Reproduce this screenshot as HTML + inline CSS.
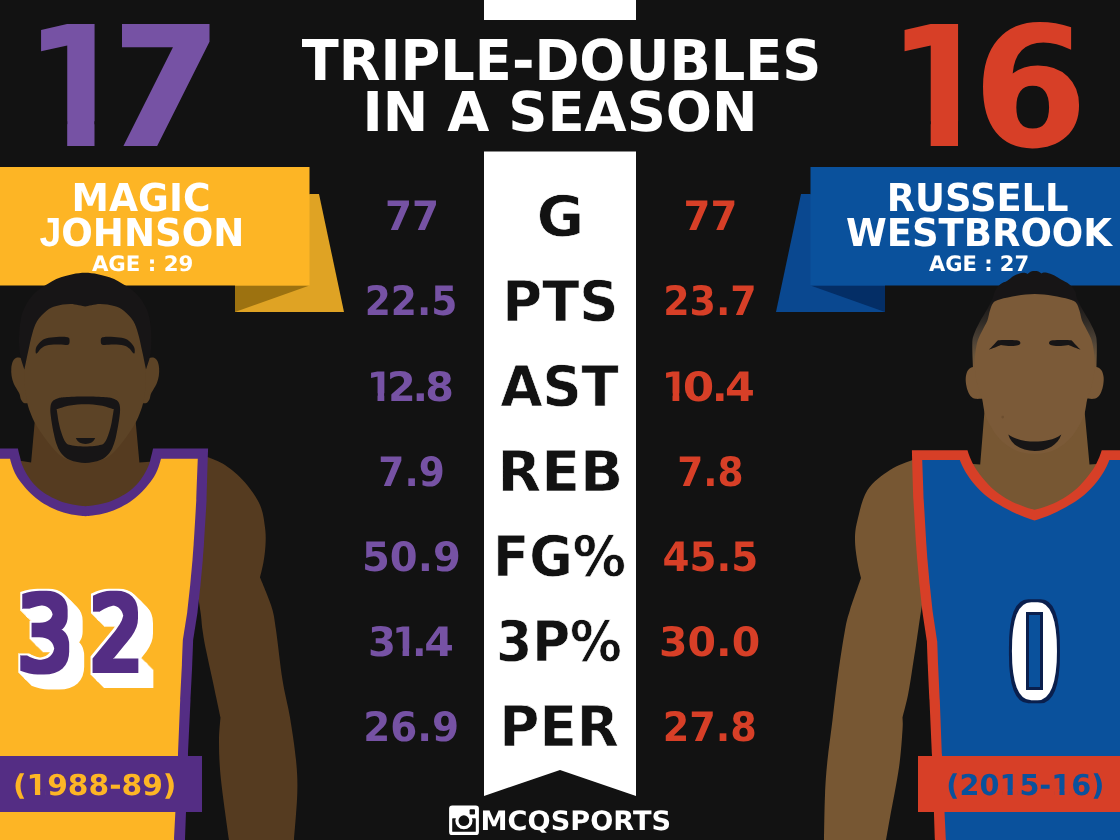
<!DOCTYPE html>
<html lang="en">
<head>
<meta charset="utf-8">
<title>Triple-Doubles in a Season</title>
<style>
html,body{margin:0;padding:0;background:#121212;}
body{width:1120px;height:840px;overflow:hidden;position:relative;font-family:'DejaVu Sans', 'Liberation Sans', sans-serif;}
</style>
</head>
<body>
<svg width="1120" height="840" viewBox="0 0 1120 840" style="display:block;position:absolute;left:0;top:0" text-rendering="geometricPrecision">
<rect width="1120" height="840" fill="#121212"/>
<g fill="#fff">
<rect x="484" y="0" width="152" height="20"/>
<path d="M484 151.5H636V796L560 770L484 796Z"/>
</g>
<path d="M309.5 194H319L344 312H235V285Z" fill="#dfa324"/>
<path d="M235 285.5H309.5L235 312Z" fill="#9d7210"/>
<rect x="0" y="167" width="309.5" height="118.5" fill="#fdb525"/>
<path d="M810.5 194H801L776 312H885V285Z" fill="#0a4890"/>
<path d="M885 285.5H810.5L885 312Z" fill="#042e66"/>
<rect x="810.5" y="167" width="309.5" height="118.5" fill="#0a519c"/>
<g id="magic">
<path fill="#553b20" d="M190 456C192.9 456.2 204.6 456.8 207.5 457C210.4 458.3 218.8 460.8 225 465C231.2 469.2 239.2 475.8 245 482.5C250.8 489.2 256.7 497.5 260 505C263.3 512.5 264.1 520.8 265 527.5C265.9 534.2 265.8 539.2 265.5 545C265.2 550.8 264.4 556.6 263.5 562C262.6 567.4 260.6 574.9 260 577.5C261 579.9 263.9 586.6 266 592C268.1 597.4 270.8 603.7 272.5 610C274.2 616.3 274.3 618.3 276 630C277.7 641.7 280.2 665.4 282.5 680C284.8 694.6 287.8 704.2 290 717.5C292.2 730.8 294.8 747.5 296 760C297.2 772.5 297.6 779.2 297.3 792.5C297 805.8 294.6 832.1 294 840C283.2 840 239.8 840 229 840C227.7 830 222.7 796.2 221 780C219.3 763.8 219.1 752.9 219 742.5C218.9 732.1 220.2 721.7 220.5 717.5C219.2 711.2 214.9 691.2 212.5 680C210.1 668.8 207.7 658.3 206 650C204.3 641.7 203.4 636.3 202.5 630C201.6 623.7 201.6 619.5 200.5 612C199.4 604.5 197.8 593.7 196 585C194.2 576.3 191 564.2 190 560C190 542.7 190 473.3 190 456Z"/>
<path fill="#553b20" d="M35.8 410L134.6 410L139.4 462.5L160 461L160 530L0 530L0 461L21.7 461L31.1 462.5Z"/>
<path fill="#542d84" d="M-2 448.5C1.3 448.5 14.6 448.5 17.9 448.5C18.2 449.8 19 453.5 19.8 456.2C20.5 459 21 461.9 22.2 465C23.5 468.1 25.2 471.7 27.2 475C29.3 478.3 32 482.1 34.8 485C37.5 487.9 40.2 490.2 43.5 492.5C46.8 494.8 51 497 54.8 498.8C58.5 500.5 62 502 66 503.1C70 504.2 75.2 505.1 78.5 505.6C81.8 506.1 83.2 506.2 85.5 506.2C87.8 506.2 89.2 506.1 92.5 505.6C95.8 505.1 101 504.2 105 503.1C109 502 112.5 500.5 116.2 498.8C120 497 124.2 494.8 127.5 492.5C130.8 490.2 133.5 487.9 136.2 485C139 482.1 141.7 478.3 143.8 475C145.8 471.7 147.5 468.1 148.8 465C150 461.9 150.5 459 151.2 456.2C152 453.5 152.8 449.8 153.1 448.5C162.3 448.5 198.9 448.5 208.1 448.5C207.8 457.1 206.8 491.4 206.6 500C206.2 507.5 204.3 537.5 203.9 545C203.7 547.5 202.9 557.5 202.8 560C202.4 564.2 200.9 580.8 200.5 585C200 589.6 198 607.9 197.5 612.5C196.8 617.2 193.8 636.2 193.1 641C193 645 192.4 661 192.2 665C192 670.8 190.8 694.2 190.5 700C190.1 709.2 188.4 745.8 188 755C187.8 762.5 186.8 792.5 186.5 800C186.2 807 185.2 835 185 842C153.8 842 29.2 842 -2 842C-2 776.4 -2 514.1 -2 448.5Z"/>
<path fill="#fdb525" d="M-2 458.8C0 458.8 8 458.8 10 458.8C10.4 460 11.2 463.5 12.2 466.2C13.2 469 14.5 472.3 16 475C17.5 477.7 18.9 479.8 21 482.5C23.1 485.2 25.6 488.3 28.5 491.2C31.4 494.2 35 497.4 38.5 500C42 502.6 45.6 504.8 49.8 506.9C53.9 509 58.7 511.1 63.5 512.5C68.3 514 74.8 515 78.5 515.6C82.2 516.2 83.2 516.2 85.5 516.2C87.8 516.2 88.8 516.2 92.5 515.6C96.2 515 102.7 514 107.5 512.5C112.3 511.1 117.1 509 121.2 506.9C125.4 504.8 129 502.6 132.5 500C136 497.4 139.6 494.2 142.5 491.2C145.4 488.3 147.9 485.2 150 482.5C152.1 479.8 153.5 477.7 155 475C156.5 472.3 157.8 469 158.8 466.2C159.8 463.5 160.6 460 161 458.8C167.1 458.8 191.6 458.8 197.8 458.8C197.5 465.6 196.5 493.1 196.3 500C195.9 507.5 194.1 537.5 193.6 545C193.4 547.5 192.7 557.5 192.5 560C192.1 564.2 190.6 580.8 190.2 585C189.7 589.6 187.7 607.9 187.2 612.5C186.5 617.2 183.5 636.2 182.8 641C182.6 645 182 661 181.9 665C181.6 670.8 180.5 694.2 180.2 700C179.8 709.2 178.4 745.8 178 755C177.7 762.5 176.3 792.5 176 800C175.7 807 174.3 835 174 842C144.7 842 27.3 842 -2 842C-2 778.1 -2 522.6 -2 458.8Z"/>
<rect x="0" y="756" width="202" height="56" fill="#542d84"/>
<path fill="#5c4326" d="M27 362C26.2 361.4 23.7 358.9 22 358.2C20.3 357.5 18.5 357.1 17 357.6C15.5 358.1 13.9 359.3 13 361C12.1 362.7 11.5 365.5 11.3 368C11.1 370.5 11.2 373.5 11.6 376C12 378.5 12.6 380.8 13.5 383C14.4 385.2 16 387.7 17 389.5C18 391.3 18.8 392.3 19.5 394C20.2 395.7 20.2 398 21 399.5C21.8 401 22.7 402.4 24 403C25.3 403.6 28.2 403 29 403C28.7 396.2 27.3 368.8 27 362Z"/>
<path fill="#5c4326" d="M143.4 362C144.2 361.4 146.7 358.9 148.4 358.2C150.1 357.5 151.9 357.1 153.4 357.6C154.9 358.1 156.5 359.3 157.4 361C158.3 362.7 158.9 365.5 159.1 368C159.3 370.5 159.2 373.5 158.8 376C158.4 378.5 157.8 380.8 156.9 383C156 385.2 154.4 387.7 153.4 389.5C152.4 391.3 151.6 392.3 150.9 394C150.2 395.7 150.2 398 149.4 399.5C148.7 401 147.7 402.4 146.4 403C145.1 403.6 142.2 403 141.4 403C141.7 396.2 143.1 368.8 143.4 362Z"/>
<path fill="#5c4326" d="M45 292C42.7 295 34.3 303.7 31 310C27.7 316.3 26.3 323.3 25 330C23.7 336.7 23.1 343.4 23 350C22.9 356.6 24.1 363.7 24.4 369.5C24.7 375.3 24.1 379.4 24.6 385C25.1 390.6 26.3 398.3 27.3 403C28.3 407.7 29.3 409.8 30.5 413C31.7 416.2 32.7 418.8 34.6 422.3C36.5 425.8 39.3 430.1 42 434C44.7 437.9 47.8 442.3 51 446C54.2 449.7 57.5 453.5 61 456C64.5 458.5 68 459.9 72 461C76 462.1 80.8 462.5 85.2 462.5C89.6 462.5 94.4 462.1 98.4 461C102.4 459.9 105.9 458.5 109.4 456C112.9 453.5 116.2 449.7 119.4 446C122.6 442.3 125.7 437.9 128.4 434C131.1 430.1 133.9 425.8 135.8 422.3C137.7 418.8 138.7 416.2 139.9 413C141.1 409.8 142.1 407.7 143.1 403C144.1 398.3 145.3 390.6 145.8 385C146.3 379.4 145.7 375.3 146 369.5C146.3 363.7 147.5 356.6 147.4 350C147.3 343.4 146.7 336.7 145.4 330C144.1 323.3 142.7 316.3 139.4 310C136.1 303.7 127.7 295 125.4 292C112 292 58.4 292 45 292Z"/>
<path fill="#171516" d="M24.4 369.5C23.7 367.1 21 360.4 20.1 355C19.2 349.6 18.9 343.5 19 337.3C19.1 331.1 19.8 323.4 20.9 318C22 312.6 23.6 309.2 25.7 305.2C27.8 301.2 30.6 297.3 33.8 294C37 290.7 40.5 288.4 45 285.6C49.5 282.8 54.3 279.5 61 277.3C67.7 275.1 77.1 272.7 85.2 272.7C93.3 272.7 102.7 275.1 109.4 277.3C116.1 279.5 120.9 282.8 125.4 285.6C129.9 288.4 133.4 290.7 136.6 294C139.8 297.3 142.6 301.2 144.7 305.2C146.9 309.2 148.4 312.6 149.5 318C150.6 323.4 151.3 331.1 151.4 337.3C151.5 343.5 151.2 349.6 150.3 355C149.4 360.4 146.7 367.1 146 369.5C146 369.5 146 369.5 146 369.5C145.4 366.6 143.6 357.7 142.3 351.8C141 345.9 139.7 339.1 138.2 334C136.7 328.9 135.8 325.2 133.4 321.3C131 317.4 127 313.4 123.8 310.8C120.6 308.2 118.1 307.1 114.1 306C110.1 304.9 104.5 303.9 99.7 304C94.9 304.1 87.6 306.1 85.2 306.5C82.8 306.1 75.5 304.1 70.7 304C65.9 303.9 60.3 304.9 56.3 306C52.3 307.1 49.8 308.2 46.6 310.8C43.4 313.4 39.4 317.4 37 321.3C34.6 325.2 33.7 328.9 32.2 334C30.7 339.1 29.4 345.9 28.1 351.8C26.8 357.7 25 366.6 24.4 369.5Z"/>
<path fill="#171516" fill-rule="evenodd" d="M85.2 396.6C78.5 396.6 69.6 396.9 65 397.2C60.4 397.5 59.6 397.7 57.5 398.4C55.4 399.1 53.8 399.8 52.6 401.2C51.4 402.6 50.8 404 50.5 406.5C50.2 409 50.2 411.5 50.8 416C51.3 420.5 52.8 428.9 53.8 433.6C54.8 438.3 55.3 440.8 56.5 444C57.7 447.2 58.8 450.2 61 452.9C63.2 455.6 66 458.3 70 460C74 461.7 80.1 462.9 85.2 462.9C90.3 462.9 96.4 461.7 100.4 460C104.4 458.3 107.2 455.6 109.4 452.9C111.7 450.2 112.7 447.2 113.9 444C115.1 440.8 115.7 438.3 116.6 433.6C117.6 428.9 119.1 420.5 119.6 416C120.2 411.5 120.2 409 119.9 406.5C119.6 404 119 402.6 117.8 401.2C116.6 399.8 115 399.1 112.9 398.4C110.8 397.7 110 397.5 105.4 397.2C100.8 396.9 91.9 396.6 85.2 396.6ZM85.2 404.2C80.1 404.2 74.8 404.6 70 405.4C65.2 406.2 58.8 408.5 56.6 409.1C57 411.3 58 418.6 58.7 422.3C59.4 426 60.2 428.8 61 431.5C61.8 434.2 62.7 436.5 63.5 438.4C64.3 440.3 65.1 441.7 66 442.8C66.9 443.9 67.4 444.3 69.1 444.8C70.8 445.3 73.3 445.7 76 446C78.7 446.3 82.1 446.4 85.2 446.4C88.3 446.4 91.7 446.3 94.4 446C97.1 445.7 99.6 445.3 101.3 444.8C103 444.3 103.5 443.9 104.4 442.8C105.3 441.7 106.1 440.3 106.9 438.4C107.7 436.5 108.6 434.2 109.4 431.5C110.2 428.8 111 426 111.7 422.3C112.4 418.6 113.5 411.3 113.8 409.1C111.6 408.5 105.2 406.2 100.4 405.4C95.6 404.6 90.3 404.2 85.2 404.2Z"/>
<path fill="#171516" d="M75.9 438.1L95.1 438.1C94 442 90 444 85.5 444C81 444 77 442 75.9 438.1Z"/>
<path fill="#171516" d="M35.7 352.6C35.6 351.7 35.5 349.5 36 348C36.5 346.5 37.6 345.1 38.6 343.8C39.6 342.6 40.7 341.4 42 340.5C43.3 339.6 44.2 338.9 46.6 338.3C49 337.7 53.1 337.2 56.3 337C59.5 336.8 63.9 336.7 66 336.9C68.1 337.1 68.4 337.3 69 338C69.6 338.7 69.6 340 69.6 341C69.6 342 69.6 343.3 69 344C68.4 344.7 68.1 344.9 66 345C63.9 345.1 59.5 344.5 56.3 344.6C53.1 344.7 49.1 344.9 46.6 345.6C44.1 346.3 42.4 347.5 41 348.6C39.6 349.7 38.7 351.5 38 352.3C37.3 353.1 37 353.4 36.6 353.5C36.2 353.6 35.8 353.5 35.7 352.6Z"/>
<path fill="#171516" d="M134.7 352.6C134.8 351.7 134.9 349.5 134.4 348C133.9 346.5 132.8 345.1 131.8 343.8C130.8 342.6 129.7 341.4 128.4 340.5C127.1 339.6 126.2 338.9 123.8 338.3C121.4 337.7 117.3 337.2 114.1 337C110.9 336.8 106.5 336.7 104.4 336.9C102.3 337.1 102 337.3 101.4 338C100.8 338.7 100.8 340 100.8 341C100.8 342 100.8 343.3 101.4 344C102 344.7 102.3 344.9 104.4 345C106.5 345.1 110.9 344.5 114.1 344.6C117.3 344.7 121.3 344.9 123.8 345.6C126.4 346.3 128 347.5 129.4 348.6C130.8 349.7 131.7 351.5 132.4 352.3C133.1 353.1 133.4 353.4 133.8 353.5C134.2 353.6 134.6 353.5 134.7 352.6Z"/>
</g>
<g id="west">
<defs><linearGradient id="wfade" gradientUnits="userSpaceOnUse" x1="0" y1="300" x2="0" y2="368"><stop offset="0" stop-color="#171516"/><stop offset="0.3" stop-color="#2e2924"/><stop offset="0.6" stop-color="#4d4236"/><stop offset="0.82" stop-color="#6b553b"/><stop offset="1" stop-color="#7b5a38"/></linearGradient></defs>
<path fill="#775733" d="M932 458C928.8 458.3 915.8 459.7 912.5 460C908.8 461.7 897.5 465 890 470C882.5 475 872.9 481.7 867.5 490C862.1 498.3 859.6 511.7 857.5 520C855.4 528.3 855 532.9 855 540C855 547.1 856.5 556.2 857.5 562.5C858.5 568.8 860.4 575.4 861 578C859.2 583.3 852.7 601.3 850 610C847.3 618.7 847 619.2 845 630C843 640.8 840.1 660 838 675C835.9 690 834.2 705.8 832.5 720C830.8 734.2 828.8 747.5 827.5 760C826.2 772.5 825.6 781.7 825 795C824.4 808.3 824.2 832.5 824 840C834.3 840 875.7 840 886 840C886.7 836.2 887.8 829.6 890 817.5C892.2 805.4 896.9 782.1 899 767.5C901.1 752.9 901.9 738.3 902.5 730C903.1 721.7 902.5 719.6 902.5 717.5C903.4 713.8 906.3 703.3 908 695C909.7 686.7 911.2 675.8 912.5 667.5C913.8 659.2 915 651.6 916 645C917 638.4 917.5 634.7 918.5 628C919.5 621.3 920.8 612.2 922 605C923.2 597.8 924.3 592.5 926 585C927.7 577.5 931 564.2 932 560C932 543 932 475 932 458Z"/>
<path fill="#775733" d="M985 405L1084 405L1089.5 464.6L1097 464L1120 464L1120 530L950 530L950 464L973 464L980.2 464.6Z"/>
<path fill="#d73f27" d="M1122 450.2C1118.6 450.2 1105.1 450.2 1101.7 450.2C1101.3 451.5 1100.4 454.6 1099.2 457.5C1097.9 460.4 1096.1 464.4 1094.2 467.5C1092.3 470.6 1090.4 473.1 1087.9 476.2C1085.4 479.4 1082.3 483.2 1079.2 486.2C1076.1 489.3 1072.9 491.8 1069.2 494.4C1065.4 497 1060.9 499.8 1056.7 501.9C1052.5 504 1047.9 505.6 1044.2 506.9C1040.5 508.2 1036.2 509.3 1034.6 509.8C1033 509.3 1028.7 508.2 1025 506.9C1021.3 505.6 1016.7 504 1012.5 501.9C1008.3 499.8 1003.8 497 1000 494.4C996.2 491.8 993.1 489.3 990 486.2C986.9 483.2 983.8 479.4 981.2 476.2C978.8 473.1 976.9 470.6 975 467.5C973.1 464.4 971.2 460.4 970 457.5C968.8 454.6 967.9 451.5 967.5 450.2C958.2 450.2 921.2 450.2 911.9 450.2C912.1 458.5 913.1 491.7 913.4 500C913.9 507.5 915.6 537.5 916.1 545C916.3 547.5 917.1 557.5 917.2 560C917.6 564.2 919.1 580.8 919.5 585C920 589.6 922 607.9 922.5 612.5C923.2 617.2 926.2 636.2 926.9 641C927 645 927.6 661 927.8 665C928 670.8 929.2 694.2 929.5 700C929.9 709.2 931.6 745.8 932 755C932.2 762.5 933.2 792.5 933.5 800C933.8 807 934.8 835 935 842C966.2 842 1090.8 842 1122 842C1122 776.7 1122 515.5 1122 450.2Z"/>
<path fill="#0a519c" d="M1122 460C1119.9 460 1111.5 460 1109.4 460C1109 461 1108 463.8 1106.7 466.2C1105.4 468.8 1103.8 471.9 1101.7 475C1099.6 478.1 1097.1 481.7 1094.2 485C1091.3 488.3 1087.9 491.9 1084.2 495C1080.4 498.1 1076.3 500.9 1071.7 503.8C1067.1 506.6 1061.3 509.6 1056.7 511.9C1052.1 514.1 1047.9 515.8 1044.2 517.2C1040.5 518.7 1036.2 520 1034.6 520.6C1033 520 1028.7 518.7 1025 517.2C1021.3 515.8 1017.1 514.1 1012.5 511.9C1007.9 509.6 1002.1 506.6 997.5 503.8C992.9 500.9 988.8 498.1 985 495C981.2 491.9 977.9 488.3 975 485C972.1 481.7 969.6 478.1 967.5 475C965.4 471.9 963.8 468.8 962.5 466.2C961.2 463.8 960.2 461 959.8 460C953.5 460 928.5 460 922.2 460C922.5 466.7 923.5 493.3 923.7 500C924.2 507.5 926 537.5 926.4 545C926.6 547.5 927.3 557.5 927.5 560C927.9 564.2 929.4 580.8 929.8 585C930.3 589.6 932.3 607.9 932.8 612.5C933.5 617.2 936.5 636.2 937.2 641C937.4 645 938 661 938.1 665C938.4 670.8 939.5 694.2 939.8 700C940.2 709.2 941.6 745.8 942 755C942.3 762.5 943.7 792.5 944 800C944.3 807 945.7 835 946 842C975.3 842 1092.7 842 1122 842C1122 778.3 1122 523.7 1122 460Z"/>
<rect x="918" y="756" width="202" height="56" fill="#d73f27"/>
<path fill="url(#wfade)" d="M973 368C972.9 363.9 972.1 349.3 972.3 343.7C972.5 338.1 972.8 337.8 974 334.3C975.2 330.8 977 327 979.3 322.7C981.5 318.4 985.2 312.8 987.5 308.7C989.8 304.6 991.5 301.1 992.8 298.2C994 295.3 993.8 293.5 995 291.2C996.2 288.9 998.2 285.9 1000.3 284.2C1002.3 282.4 1005 282.1 1007.3 280.7C1009.6 279.3 1011.7 277.1 1014 275.8C1016.3 274.5 1019.4 273.6 1021.3 273.1C1023.2 272.6 1024.4 272.8 1025.5 272.9C1026.6 273 1027.4 273.7 1027.8 273.9C1028.3 273.5 1029.8 272.1 1031 271.6C1032.2 271.1 1033.5 271.1 1034.8 271.1C1036 271.1 1037.4 271.2 1038.5 271.6C1039.6 272 1040.8 273.3 1041.3 273.6C1041.7 273.4 1042.5 272.6 1043.5 272.5C1044.5 272.4 1045.2 272.2 1047 272.7C1048.8 273.2 1051.7 274.2 1054 275.3C1056.3 276.4 1058.5 278 1061 279.5C1063.5 281 1066.9 282.2 1069.2 284.2C1071.5 286.1 1073.7 288.9 1075 291.2C1076.3 293.5 1075.6 295.3 1076.8 298.2C1078 301.1 1079.8 304.6 1082 308.7C1084.2 312.8 1088 318.4 1090.2 322.7C1092.4 327 1094.3 330.8 1095.4 334.3C1096.5 337.8 1096.6 338.1 1096.8 343.7C1097 349.3 1096.5 363.9 1096.5 368C1075.9 368 993.6 368 973 368Z"/>
<path fill="#7b5a38" d="M983 368.5C982.2 368.3 979.8 367.4 978 367.2C976.2 367 973.7 366.6 972 367.2C970.3 367.8 968.8 368.9 967.8 370.5C966.8 372.1 966.1 374.6 965.8 377C965.5 379.4 965.8 382.6 966.2 385C966.6 387.4 967.2 389.6 968 391.5C968.8 393.4 969.8 395.3 971 396.5C972.2 397.7 973.3 398.5 975.5 398.8C977.7 399.1 982.6 398.6 984 398.5C983.8 393.5 983.2 373.5 983 368.5Z"/>
<path fill="#7b5a38" d="M1086.4 368.5C1087.2 368.3 1089.6 367.4 1091.4 367.2C1093.2 367 1095.7 366.6 1097.4 367.2C1099.1 367.8 1100.6 368.9 1101.6 370.5C1102.6 372.1 1103.3 374.6 1103.6 377C1103.9 379.4 1103.6 382.6 1103.2 385C1102.8 387.4 1102.2 389.6 1101.4 391.5C1100.6 393.4 1099.7 395.3 1098.4 396.5C1097.2 397.7 1096.1 398.5 1093.9 398.8C1091.7 399.1 1086.8 398.6 1085.4 398.5C1085.6 393.5 1086.2 373.5 1086.4 368.5Z"/>
<path fill="#7b5a38" d="M1034.8 294.1C1028.8 294.1 1022.5 294.9 1016.7 295.8C1011 296.7 1004.2 298.1 1000.3 299.3C996.4 300.5 995 300.9 993.3 302.8C991.5 304.8 990.8 308.1 989.8 311C988.8 313.9 988.5 317.6 987.5 320.3C986.5 323 985.5 324.4 984 327.3C982.5 330.2 980 334.7 978.8 337.8C977.5 340.9 977.1 342.3 976.4 346C975.7 349.7 974.9 355.2 974.7 360C974.6 364.8 974.8 370 975.5 375C976.2 380 977.9 386.1 979 390C980.1 393.9 981.1 394.7 982.1 398.7C983.1 402.7 983.6 409.4 985 414C986.4 418.6 988.3 422.2 990.5 426C992.7 429.8 995.1 433.7 998 437C1000.9 440.3 1004.3 443.5 1008 446C1011.7 448.5 1015.5 450.7 1020 452C1024.5 453.3 1029.9 454 1034.8 454C1039.7 454 1045 453.3 1049.4 452C1053.8 450.7 1057.7 448.5 1061.4 446C1065.1 443.5 1068.5 440.3 1071.4 437C1074.3 433.7 1076.7 429.8 1078.9 426C1081.1 422.2 1083 418.6 1084.4 414C1085.8 409.4 1086.3 402.7 1087.3 398.7C1088.3 394.7 1089.3 393.9 1090.4 390C1091.5 386.1 1093.2 380 1093.9 375C1094.6 370 1094.9 364.8 1094.7 360C1094.5 355.2 1093.7 349.7 1093 346C1092.3 342.3 1091.9 340.9 1090.7 337.8C1089.4 334.7 1086.9 330.2 1085.4 327.3C1083.9 324.4 1082.9 323 1081.9 320.3C1080.9 317.6 1080.6 313.9 1079.6 311C1078.6 308.1 1077.9 304.8 1076.1 302.8C1074.4 300.9 1073 300.5 1069.1 299.3C1065.2 298.1 1058.4 296.7 1052.7 295.8C1047 294.9 1040.8 294.1 1034.8 294.1Z"/>
<path fill="#171516" d="M1008.3 434.5C1016 440 1026 441.6 1034.8 441.6C1044 441.6 1054 440 1061.3 434.5C1058 445 1047 451 1034.8 451C1022 451 1011 445 1008.3 434.5Z"/>
<path fill="#171516" d="M988.9 349.7C989.7 348.9 992 346.6 993.5 345C995 343.4 997.2 341 998 340.2C999.5 340.1 1003.9 339.9 1007 339.9C1010.1 339.9 1014.6 340 1016.7 340.2C1018.8 340.4 1019 340.8 1019.6 341.3C1020.2 341.8 1020.4 342.6 1020.4 343.1C1020.4 343.7 1020.2 344.2 1019.6 344.6C1019 345 1018.6 345.2 1016.7 345.4C1014.9 345.6 1011.1 346.1 1008.5 346C1005.9 345.9 1002.2 345.2 1000.9 345.1C999.9 345.5 997 346.8 995 347.6C993 348.4 989.9 349.4 988.9 349.7Z"/>
<path fill="#171516" d="M1080.5 349.7C1079.7 348.9 1077.4 346.6 1075.9 345C1074.4 343.4 1072.2 341 1071.4 340.2C1069.9 340.1 1065.5 339.9 1062.4 339.9C1059.3 339.9 1054.8 340 1052.7 340.2C1050.6 340.4 1050.4 340.8 1049.8 341.3C1049.2 341.8 1049 342.6 1049 343.1C1049 343.7 1049.2 344.2 1049.8 344.6C1050.4 345 1050.9 345.2 1052.7 345.4C1054.5 345.6 1058.3 346.1 1060.9 346C1063.5 345.9 1067.2 345.2 1068.5 345.1C1069.5 345.5 1072.4 346.8 1074.4 347.6C1076.4 348.4 1079.5 349.4 1080.5 349.7Z"/>
<circle cx="1002.7" cy="417.1" r="1.3" fill="#6d4f30"/>
</g>
<g font-family="'DejaVu Sans', 'Liberation Sans', sans-serif" font-weight="700">
<filter id="blk" filterUnits="userSpaceOnUse" x="0" y="570" width="175" height="135" color-interpolation-filters="sRGB"><feMorphology in="SourceAlpha" operator="dilate" radius="3 3" result="p"/><feMorphology in="p" operator="dilate" radius="2 2" result="w0"/><feOffset in="w0" dx="1" dy="1" result="o1"/><feMerge result="w1"><feMergeNode in="w0"/><feMergeNode in="o1"/></feMerge><feOffset in="w1" dx="2" dy="2" result="o2"/><feMerge result="w2"><feMergeNode in="w1"/><feMergeNode in="o2"/></feMerge><feOffset in="w2" dx="4" dy="4" result="o3"/><feMerge result="w3"><feMergeNode in="w2"/><feMergeNode in="o3"/></feMerge><feOffset in="w3" dx="5.5" dy="6" result="o4"/><feMerge result="w4"><feMergeNode in="w3"/><feMergeNode in="o4"/></feMerge><feFlood flood-color="#fff"/><feComposite operator="in" in2="w4" result="white"/><feFlood flood-color="#542d84"/><feComposite operator="in" in2="p" result="purple"/><feMerge><feMergeNode in="white"/><feMergeNode in="purple"/></feMerge></filter>
<g filter="url(#blk)">
<text y="669.80" font-size="102.74" fill="#542d84" font-weight="400"><tspan x="16.39" textLength="56.87" lengthAdjust="spacingAndGlyphs">3</tspan><tspan x="89.30" textLength="54.70" lengthAdjust="spacingAndGlyphs">2</tspan></text>
</g>
<filter id="zero" filterUnits="userSpaceOnUse" x="975" y="585" width="120" height="135" color-interpolation-filters="sRGB"><feMorphology in="SourceAlpha" operator="dilate" radius="16 0" result="d"/><feMorphology in="d" operator="erode" radius="13 0" result="w"/><feMorphology in="w" operator="dilate" radius="3 3" result="n"/><feFlood flood-color="#0a1f4d"/><feComposite operator="in" in2="n" result="navy"/><feFlood flood-color="#fff"/><feComposite operator="in" in2="w" result="white"/><feFlood flood-color="#0a1f4d" x="1026" y="612" width="17" height="78" result="cn"/><feFlood flood-color="#0a519c" x="1029" y="615" width="11" height="72" result="cb"/><feMerge><feMergeNode in="navy"/><feMergeNode in="white"/><feMergeNode in="cn"/><feMergeNode in="cb"/></feMerge></filter>
<g filter="url(#zero)"><text transform="translate(1011.81 698.65) scale(0.5894 1)" font-family="'Liberation Sans', sans-serif" font-weight="400" font-size="138.42" fill="#fff">0</text></g>
<clipPath id="c17"><path d="M11.00 0H96.00V121.26H122.00V0H239.50V160H121.01V121.26H94.50V150H67.19V121.26H11.00Z"/></clipPath><text y="146.00" font-size="167.35" fill="#7652a4" clip-path="url(#c17)"><tspan x="23.67" textLength="106.92" lengthAdjust="spacingAndGlyphs">1</tspan><tspan x="95.98" textLength="128.19" lengthAdjust="spacingAndGlyphs">7</tspan></text>
<clipPath id="c16"><path d="M874.50 0H1109.00V160H984.51V121.26H958.00V150H930.69V121.26H874.50Z"/></clipPath><text y="146.00" font-size="167.35" fill="#d73f27" clip-path="url(#c16)"><tspan x="887.17" textLength="106.92" lengthAdjust="spacingAndGlyphs">1</tspan><tspan x="972.74" textLength="115.15" lengthAdjust="spacingAndGlyphs">6</tspan></text>
<text transform="translate(301.73 80.00) scale(0.9638 1)" font-size="56.24" fill="#fff" >TRIPLE-DOUBLES</text>
<text transform="translate(362.61 131.00) scale(0.9911 1)" font-size="54.87" fill="#fff" >IN A SEASON</text>
<text transform="translate(71.62 211.00) scale(0.9782 1)" font-size="38.41" fill="#fff" >MAGIC</text>
<text transform="translate(39.44 246.00) scale(0.9664 1)" font-size="38.41" fill="#fff" ><tspan font-family="'Liberation Sans', sans-serif" font-size="1.0596em">J</tspan>OHNSON</text>
<text transform="translate(91.89 271.00) scale(1.0018 1)" font-size="21.26" fill="#fff" >AGE : 29</text>
<text transform="translate(886.68 211.00) scale(0.9598 1)" font-size="38.41" fill="#fff" >RUSSELL</text>
<text transform="translate(845.89 246.00) scale(0.9625 1)" font-size="38.41" fill="#fff" >WESTBROOK</text>
<text transform="translate(928.89 271.00) scale(0.9899 1)" font-size="21.26" fill="#fff" >AGE : 27</text>
<text transform="translate(384.97 230.30) scale(0.9594 1)" font-size="40.60" fill="#7652a4" >77</text>
<text transform="translate(683.48 230.30) scale(0.9535 1)" font-size="40.60" fill="#d73f27" >77</text>
<text transform="translate(536.82 235.70) scale(1.0284 1)" font-size="56.10" fill="#121212" stroke="#fff" stroke-width="0.60" stroke-linejoin="miter" stroke-miterlimit="2.5" vector-effect="non-scaling-stroke" >G</text>
<text transform="translate(364.70 315.40) scale(0.9245 1)" font-size="40.60" fill="#7652a4" >22.5</text>
<text transform="translate(663.16 315.40) scale(0.9349 1)" font-size="40.60" fill="#d73f27" >23.7</text>
<text transform="translate(502.31 320.80) scale(0.9690 1)" font-size="56.10" fill="#121212" stroke="#fff" stroke-width="0.60" stroke-linejoin="miter" stroke-miterlimit="2.5" vector-effect="non-scaling-stroke" >PTS</text>
<clipPath id="k1"><path clip-rule="evenodd" d="M351.0 350.9H471.4V415.5H351.0ZM370.42 393.23H377.51V404.5H370.42ZM384.30 393.23H391.31V404.5H384.30Z"/></clipPath><text y="400.50" font-size="40.60" fill="#7652a4" clip-path="url(#k1)"><tspan x="366.69" textLength="26.58" lengthAdjust="spacingAndGlyphs">1</tspan><tspan x="386.70" textLength="29.03" lengthAdjust="spacingAndGlyphs">2</tspan><tspan x="412.62" textLength="15.56" lengthAdjust="spacingAndGlyphs">.</tspan><tspan x="425.29" textLength="28.67" lengthAdjust="spacingAndGlyphs">8</tspan></text>
<clipPath id="k2"><path clip-rule="evenodd" d="M646.0 350.9H773.0V415.5H646.0ZM665.42 393.23H672.51V404.5H665.42ZM679.30 393.23H686.31V404.5H679.30Z"/></clipPath><text y="400.50" font-size="40.60" fill="#d73f27" clip-path="url(#k2)"><tspan x="661.69" textLength="26.58" lengthAdjust="spacingAndGlyphs">1</tspan><tspan x="682.83" textLength="31.54" lengthAdjust="spacingAndGlyphs">0</tspan><tspan x="711.80" textLength="15.99" lengthAdjust="spacingAndGlyphs">.</tspan><tspan x="725.07" textLength="29.90" lengthAdjust="spacingAndGlyphs">4</tspan></text>
<text transform="translate(500.43 405.90) scale(0.9682 1)" font-size="56.10" fill="#121212" stroke="#fff" stroke-width="0.60" stroke-linejoin="miter" stroke-miterlimit="2.5" vector-effect="non-scaling-stroke" >AST</text>
<text transform="translate(378.36 485.60) scale(0.9238 1)" font-size="40.60" fill="#7652a4" >7.9</text>
<text transform="translate(677.16 485.60) scale(0.9230 1)" font-size="40.60" fill="#d73f27" >7.8</text>
<text transform="translate(497.59 491.00) scale(1.0113 1)" font-size="56.10" fill="#121212" stroke="#fff" stroke-width="0.60" stroke-linejoin="miter" stroke-miterlimit="2.5" vector-effect="non-scaling-stroke" >REB</text>
<text transform="translate(362.00 570.70) scale(0.9862 1)" font-size="40.60" fill="#7652a4" >50.9</text>
<text transform="translate(662.45 570.70) scale(0.9558 1)" font-size="40.60" fill="#d73f27" >45.5</text>
<text transform="translate(492.92 576.10) scale(0.9461 1)" font-size="56.10" fill="#121212" stroke="#fff" stroke-width="0.60" stroke-linejoin="miter" stroke-miterlimit="2.5" vector-effect="non-scaling-stroke" >FG%</text>
<clipPath id="k3"><path clip-rule="evenodd" d="M350.8 606.2H472.1V670.8H350.8ZM395.74 648.53H402.57V659.8H395.74ZM409.10 648.53H415.85V659.8H409.10Z"/></clipPath><text y="655.80" font-size="40.60" fill="#7652a4" clip-path="url(#k3)"><tspan x="368.11" textLength="27.99" lengthAdjust="spacingAndGlyphs">3</tspan><tspan x="392.15" textLength="25.58" lengthAdjust="spacingAndGlyphs">1</tspan><tspan x="411.79" textLength="14.91" lengthAdjust="spacingAndGlyphs">.</tspan><tspan x="424.38" textLength="29.67" lengthAdjust="spacingAndGlyphs">4</tspan></text>
<text transform="translate(659.03 655.80) scale(1.0102 1)" font-size="40.60" fill="#d73f27" >30.0</text>
<text transform="translate(496.34 661.20) scale(0.9206 1)" font-size="56.10" fill="#121212" stroke="#fff" stroke-width="0.60" stroke-linejoin="miter" stroke-miterlimit="2.5" vector-effect="non-scaling-stroke" >3P%</text>
<text transform="translate(363.14 740.90) scale(0.9581 1)" font-size="40.60" fill="#7652a4" >26.9</text>
<text transform="translate(662.74 740.90) scale(0.9407 1)" font-size="40.60" fill="#d73f27" >27.8</text>
<text transform="translate(499.27 746.30) scale(0.9758 1)" font-size="56.10" fill="#121212" stroke="#fff" stroke-width="0.60" stroke-linejoin="miter" stroke-miterlimit="2.5" vector-effect="non-scaling-stroke" >PER</text>
<clipPath id="k4"><path clip-rule="evenodd" d="M-50 -28.8H206.1V11.5H-50ZM15.98 -5.74H21.32V4H15.98ZM26.44 -5.74H31.73V4H26.44Z"/></clipPath><text transform="translate(12.97 795.00) scale(1.0313 1)" font-size="28.81" fill="#fdb525" clip-path="url(#k4)">(1988-89)</text>
<clipPath id="k5"><path clip-rule="evenodd" d="M-50 -28.8H206.1V11.5H-50ZM56.07 -5.74H61.41V4H56.07ZM66.53 -5.74H71.82V4H66.53ZM108.11 -5.74H113.45V4H108.11ZM118.57 -5.74H123.86V4H118.57Z"/></clipPath><text transform="translate(946.31 795.00) scale(0.9972 1)" font-size="28.81" fill="#0a519c" clip-path="url(#k5)">(2015-16)</text>
<clipPath id="k6"><rect x="-50" y="-26.7" width="285.5" height="29.9"/></clipPath><text transform="translate(480.55 829.50) scale(1.0159 1)" font-size="26.75" fill="#fff" clip-path="url(#k6)">MCQSPORTS</text>
</g>
<g>
<rect x="449.1" y="805.6" width="29.8" height="29.5" rx="3.2" fill="#fff"/>
<rect x="452.2" y="818.3" width="23.6" height="13.5" rx="0.6" fill="#121212"/>
<circle cx="463.9" cy="820.7" r="8.6" fill="#fff"/>
<circle cx="463.9" cy="820.7" r="5.4" fill="#121212"/>
<rect x="469.6" y="809.3" width="5.4" height="5.2" rx="1" fill="#121212"/>
</g>
</svg>
</body>
</html>
